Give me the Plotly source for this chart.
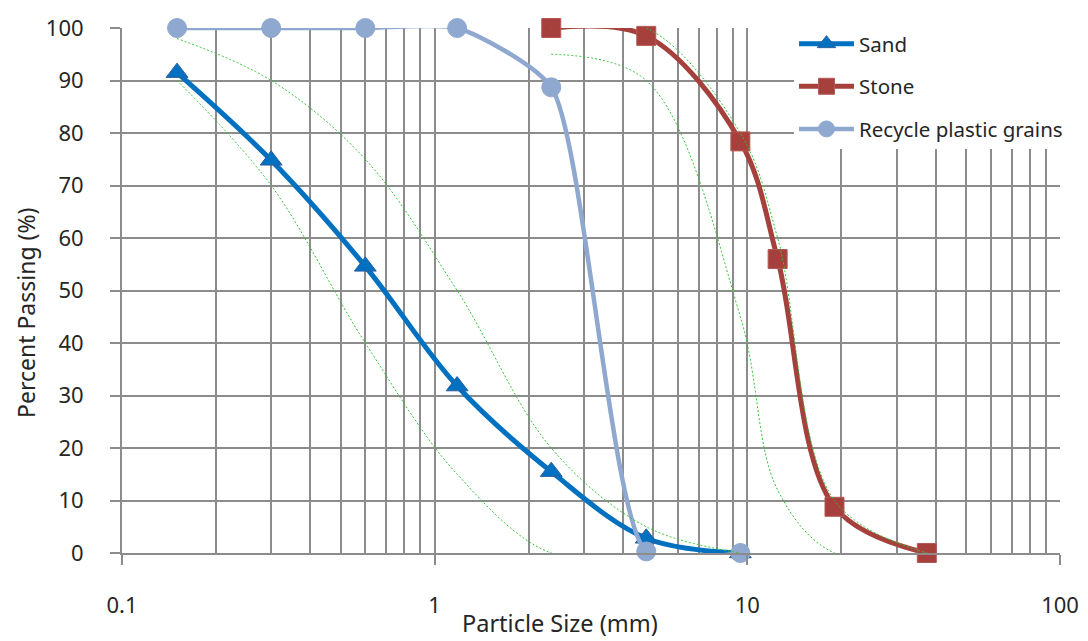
import plotly.graph_objects as go

# Sieve sizes (mm)
fine_sizes = [0.15, 0.3, 0.6, 1.18, 2.36, 4.75, 9.5]
coarse_sizes = [2.36, 4.75, 9.5, 12.5, 19, 37.5]

# Percent passing for each material
sand = [91.5, 74.8, 54.6, 31.8, 15.5, 2.8, 0]
stone = [100, 98.5, 78.4, 56, 8.8, 0]
plastic = [100, 100, 100, 100, 88.7, 0.3, 0]

# Gradation limits
sand_upper = [98, 90, 75, 50, 20, 5, 0]
sand_lower = [90, 70, 40, 15, 0, 0]
stone_upper = [100, 100, 80, 60, 10, 0]
stone_lower = [95, 90, 45, 12, 0, 0]

x_ticks = [0.1, 1, 10, 100]
x_tick_text = ["0.1", "1", "10", "100"]
minor_ticks = [m * d for d in (0.1, 1, 10) for m in range(2, 10)]

FONT = "Noto Sans"
TEXT = "#262626"
GRID = "#8c8c8c"

fig = go.Figure()

def curve(x, y, name, color, symbol, width, msize, mline, smooth=1.0):
    fig.add_trace(go.Scatter(
        x=x, y=y, name=name, mode="lines+markers",
        line=dict(color=color, width=width, shape="spline", smoothing=smooth),
        marker=dict(symbol=symbol, size=msize, color=color,
                    line=dict(color=mline, width=1)),
        legendgroup=name, cliponaxis=False,
    ))

curve(fine_sizes, sand, "Sand", "#0070c0", "triangle-up", 5, 19, "#2f5f9e")
curve(coarse_sizes, stone, "Stone", "#a5403c", "square", 5, 19, "#b35a56")
curve(fine_sizes, plastic, "Recycle plastic grains", "#8fa8d0", "circle", 4.5, 19,
      "#8fa8d0", smooth=0.6)

def limit(x, y):
    fig.add_trace(go.Scatter(
        x=x, y=y, mode="lines", showlegend=False, hoverinfo="skip",
        line=dict(color="#33c433", width=1, dash="2px,2px",
                  shape="spline", smoothing=1),
    ))

limit(fine_sizes, sand_upper)
limit(fine_sizes[:len(sand_lower)], sand_lower)
limit(coarse_sizes, stone_upper)
limit(coarse_sizes, stone_lower)

fig.update_layout(
    width=1088, height=641,
    margin=dict(l=122, r=28, t=28, b=88, autoexpand=False),
    paper_bgcolor="white", plot_bgcolor="white",
    font=dict(family=FONT, size=21, color=TEXT),
    showlegend=True,
    legend=dict(
        x=(794 - 122) / 938, y=1.008, xanchor="left", yanchor="top",
        bgcolor="white", borderwidth=0,
        font=dict(family=FONT, size=20.5, color=TEXT),
        itemwidth=55, tracegroupgap=13,
    ),
    xaxis=dict(
        type="log", range=[-1, 2],
        tickvals=x_ticks, ticktext=x_tick_text,
        ticks="outside", ticklen=10, tickwidth=2, tickcolor=GRID,
        ticklabelstandoff=22,
        showgrid=True, gridcolor=GRID, gridwidth=2,
        showline=True, linecolor=GRID, linewidth=2,
        zeroline=False,
        tickfont=dict(family=FONT, size=22, color=TEXT),
        minor=dict(tickvals=minor_ticks, showgrid=True,
                   gridcolor=GRID, gridwidth=2, ticks=""),
    ),
    yaxis=dict(
        range=[0, 100], dtick=10,
        ticks="outside", ticklen=10, tickwidth=2, tickcolor=GRID,
        ticklabelstandoff=22,
        showgrid=True, gridcolor=GRID, gridwidth=2,
        showline=True, linecolor=GRID, linewidth=2,
        zeroline=False,
        tickfont=dict(family=FONT, size=22, color=TEXT),
    ),
    annotations=[
        dict(text="Particle Size (mm)", xref="paper", yref="paper",
             x=(560 - 122) / 938, y=-(623 - 553) / 525,
             xanchor="center", yanchor="middle", showarrow=False,
             font=dict(family=FONT, size=23.5, color=TEXT)),
        dict(text="Percent Passing (%)", xref="paper", yref="paper",
             x=-(122 - 26) / 938, y=(553 - 313) / 525, textangle=-90,
             xanchor="center", yanchor="middle", showarrow=False,
             font=dict(family=FONT, size=23, color=TEXT)),
    ],
)

fig.write_html("out.html")
